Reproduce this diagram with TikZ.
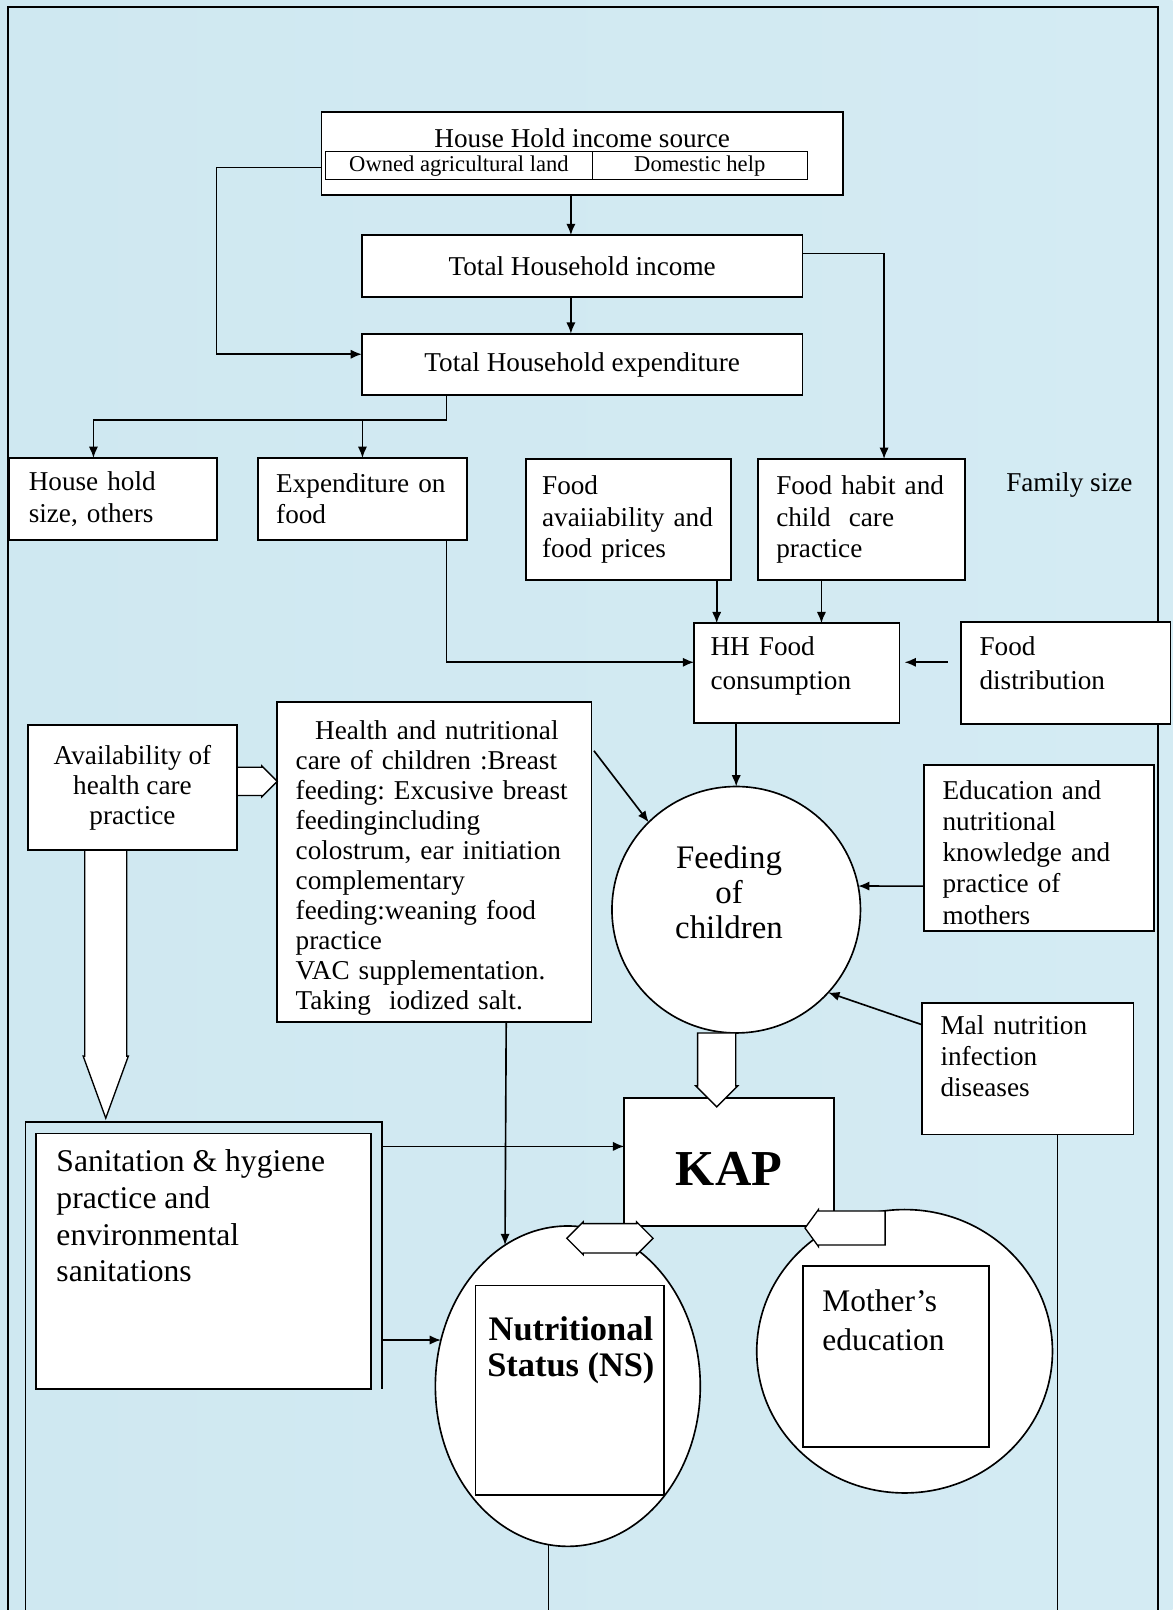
\documentclass[tikz,border=0pt]{standalone}
\usepackage{fontspec}
\setmainfont{Liberation Serif}
\usetikzlibrary{arrows.meta,positioning,shapes.geometric,shapes.arrows}
\definecolor{bgl}{RGB}{207,232,241}
\definecolor{bgm}{RGB}{224,242,247}
\definecolor{bgr}{RGB}{212,235,243}
\newcommand{\LinkTip}{Latex[length=11,width=9]}
\newcommand{\FontAt}[2]{\fontsize{#1}{#2}\selectfont\frenchspacing}
\tikzset{box/.style={draw,fill=white,line width=1.7pt,inner sep=0pt,outer sep=0pt,align=left,font=\FontAt{26.5}{30.5}}}
\tikzset{cell/.style={draw,fill=white,line width=1pt,inner sep=0pt,outer sep=0pt,minimum height=27pt,font=\FontAt{22}{24}}}
\tikzset{txt/.style={inner sep=0pt,outer sep=0pt,align=left,font=\FontAt{26.5}{30.5}}}
\tikzset{circ/.style={ellipse,draw,fill=white,line width=1.6pt,inner sep=0pt,outer sep=0pt}}
\tikzset{link/.style={line width=1.6pt,-{\LinkTip}}, plain/.style={line width=1.6pt}, pageframe/.style={line width=1.8pt}}
\tikzset{fatarr/.style={single arrow,draw,fill=white,line width=1.3pt,inner sep=0pt,outer sep=0pt,single arrow head extend=1pt}}
\tikzset{dblarr/.style={double arrow,draw,fill=white,line width=1.3pt,inner sep=0pt,outer sep=0pt,double arrow head extend=1pt}}

\begin{document}
\begin{tikzpicture}[x=1pt,y=-1pt]
\useasboundingbox (0,0) rectangle (1142,1568);
\shade[left color=bgl,middle color=bgm,right color=bgr] (0,0) rectangle (1142,1568);
\coordinate (bottom) at (0,1568);
\draw[pageframe] (8,1568) -- (8,7) -- (1128,7) -- (1128,1568);
% income and expenditure
\node[box,anchor=north west,minimum width=508pt,minimum height=81pt] (incsrc) at (313,109) {};
\node[txt] (inctitle) at ([yshift=-25.7pt]incsrc.north) {House Hold income source};
\node[cell,minimum width=260pt,anchor=north west] (land) at ([xshift=4pt,yshift=-39pt]incsrc.north west) {Owned agricultural land};
\node[cell,minimum width=209pt,right=0pt of land] (help) {Domestic help};
\node[box,minimum width=429pt,minimum height=60pt,below=39pt of incsrc] (thi) {Total Household income};
\node[box,minimum width=429pt,minimum height=60pt,below=36pt of thi] (the) {Total Household expenditure};
% first row
\node[box,anchor=north west,minimum height=80pt,text width=164pt,inner xsep=19pt] (hhsize) at (9,446) {House hold\\size, others};
\node[box,minimum height=80pt,text width=168pt,inner xsep=18pt,right=40pt of hhsize] (expfood) {Expenditure on\\food};
\node[box,anchor=north west,minimum height=118pt,text width=168pt,inner xsep=16pt] (foodavail) at (512,447) {Food\\avaiiability and\\food prices};
\node[box,minimum height=118pt,text width=166pt,inner xsep=18pt,right=26pt of foodavail] (foodhabit) {Food habit and\\child\ \ care\\practice};
\node[txt,anchor=west] (famsize) at (980,472) {Family size};
\node[box,anchor=north west,minimum height=97pt,text width=168pt,inner xsep=16pt,font=\FontAt{26.5}{33},text depth=53pt] (hhfood) at (676,607) {HH Food\\consumption};
\node[box,minimum height=99pt,text width=168pt,inner xsep=18pt,font=\FontAt{26.5}{33},text depth=53pt,right=60pt of hhfood] (fooddist) {Food\\distribution};
% middle
\node[box,anchor=north west,minimum width=204pt,minimum height=122pt,align=center,font=\FontAt{26.5}{29}] (availhc) at (27,706) {Availability of\\health care\\practice};
\node[box,anchor=north west,minimum height=311pt,text width=270pt,inner xsep=18pt,font=\FontAt{26.5}{29.2},text depth=257pt] (healthcare) at (270,684) {\hspace*{19pt}Health and nutritional\\care of children :Breast\\feeding:~Excusive~breast\\feedingincluding\\colostrum, ear initiation\\complementary\\feeding:weaning food\\practice\\VAC supplementation.\\Taking\ \ iodized salt.};
\node[circ,minimum width=242pt,minimum height=240pt] (feed) at (717,886) {};
\node[txt,align=center,font=\FontAt{32}{34.5}] (feedtxt) at ([xshift=-7pt,yshift=17pt]feed.center) {Feeding\\of\\children};
\node[box,anchor=north west,minimum height=162pt,text width=188pt,inner xsep=18pt,text depth=114pt] (edu) at (900,745) {Education and\\nutritional\\knowledge and\\practice of\\mothers};
\node[box,anchor=north west,minimum height=128pt,text width=170pt,inner xsep=18pt,text depth=86pt] (mal) at (898,977) {Mal nutrition\\infection\\diseases};
\node[box,anchor=north west,minimum width=204pt,minimum height=125pt,font=\FontAt{49}{55}\bfseries,text height=47pt] (kap) at (608,1069) {KAP};
% sanitation
\coordinate (sanR) at (372,1093);
\draw[plain] (25,1568) -- (25,1093) -- (sanR) -- (372,1353);
\node[box,anchor=north west,minimum width=326pt,minimum height=249pt] (sanit) at (35,1104) {};
\node[txt,anchor=north west,font=\FontAt{30.8}{35.7}] (sanittxt) at ([xshift=20pt,yshift=-16pt]sanit.north west) {Sanitation \& hygiene\\practice and\\environmental\\sanitations};
% nutritional status and mother
\node[circ,minimum width=258pt,minimum height=312pt] (ns) at (553,1350) {};
\node[box,anchor=north west,minimum width=184pt,minimum height=204pt] (nsbox) at (463,1252) {};
\node[txt,align=center,font=\FontAt{33.5}{36}\bfseries] (nstxt) at ([xshift=1pt,yshift=39pt]nsbox.center) {Nutritional\\Status (NS)};
\node[circ,minimum width=288pt,minimum height=276pt] (moth) at (881,1316) {};
\node[box,anchor=north west,minimum width=181pt,minimum height=176pt] (mothbox) at (782,1233) {};
\node[txt,anchor=north west,font=\FontAt{30.6}{38}] (mothtxt) at ([xshift=19pt,yshift=-23pt]mothbox.north west) {Mother’s\\education};
% connectors
\draw[link] ([xshift=-11pt]incsrc.south) -- ([xshift=-11pt]thi.north);
\draw[link] ([xshift=-11pt]thi.south) -- ([xshift=-11pt]the.north);
\draw[link] ([yshift=-13.5pt]incsrc.west) -| (211,345) -- ([yshift=10pt]the.west);
\draw[link] ([yshift=12pt]thi.east) -| ([xshift=22pt]foodhabit.north);
\coordinate (split) at (435,409);
\draw[plain] ([xshift=-132pt]the.south) -- (split);
\draw[link] (split) -| ([xshift=-19pt]hhsize.north);
\draw[link] (split -| expfood.north) -- (expfood.north);
\draw[link] ([xshift=82pt]expfood.south) |- ([yshift=10.5pt]hhfood.west);
\draw[link] ([xshift=86pt]foodavail.south) -- ([xshift=-78pt]hhfood.north);
\draw[link] ([xshift=-39pt]foodhabit.south) -- ([xshift=24pt]hhfood.north);
\draw[link,shorten <=13pt,shorten >=5pt] ([yshift=10.5pt]fooddist.west) -- ([yshift=10.5pt]hhfood.east);
\draw[link] ([xshift=-59pt]hhfood.south) -- (feed.north);
\draw[link,shorten <=4pt] ([yshift=111.5pt]healthcare.east) -- (feed.135);
\draw[link] ([yshift=-37pt]edu.west) -- (feed.11);
\draw[link] ([yshift=43pt]mal.west) -- (feed.318);
\draw[link] ([xshift=70pt]healthcare.south) -- (ns.114);
\draw[link] ([yshift=-23.5pt]sanR) -- ([yshift=15pt]kap.west);
\draw[link] ([yshift=-212pt]sanR) -- (ns.160);
\draw[plain] (ns.263) -- (ns.263 |- bottom);
\coordinate (malfoot) at ([xshift=29pt]mal.south);
\draw[plain] (malfoot) -- (malfoot |- bottom);
% hollow arrows
\node[fatarr,minimum height=39pt,minimum width=30pt,inner ysep=10pt,anchor=tail] (avarr) at ([yshift=6pt]availhc.east) {};
\node[fatarr,rotate=-90,minimum height=261pt,minimum width=44pt,inner ysep=12.3pt,single arrow tip angle=40,anchor=tail] (bigarr) at ([xshift=-26pt]availhc.south) {};
\node[fatarr,rotate=-90,minimum height=72pt,minimum width=41pt,inner ysep=9pt,anchor=tail] (kaparr) at ([xshift=-19pt]feed.south) {};
\node[dblarr,minimum height=84pt,minimum width=32pt,inner ysep=8pt] (nsarr) at ([xshift=-14pt,yshift=-12pt]kap.south west) {};
\node[fatarr,rotate=180,minimum height=78pt,minimum width=36pt,inner ysep=11pt,single arrow tip angle=108,anchor=tip] (motharr) at ([xshift=-28pt,yshift=-2pt]kap.south east) {};
\end{tikzpicture}
\end{document}
